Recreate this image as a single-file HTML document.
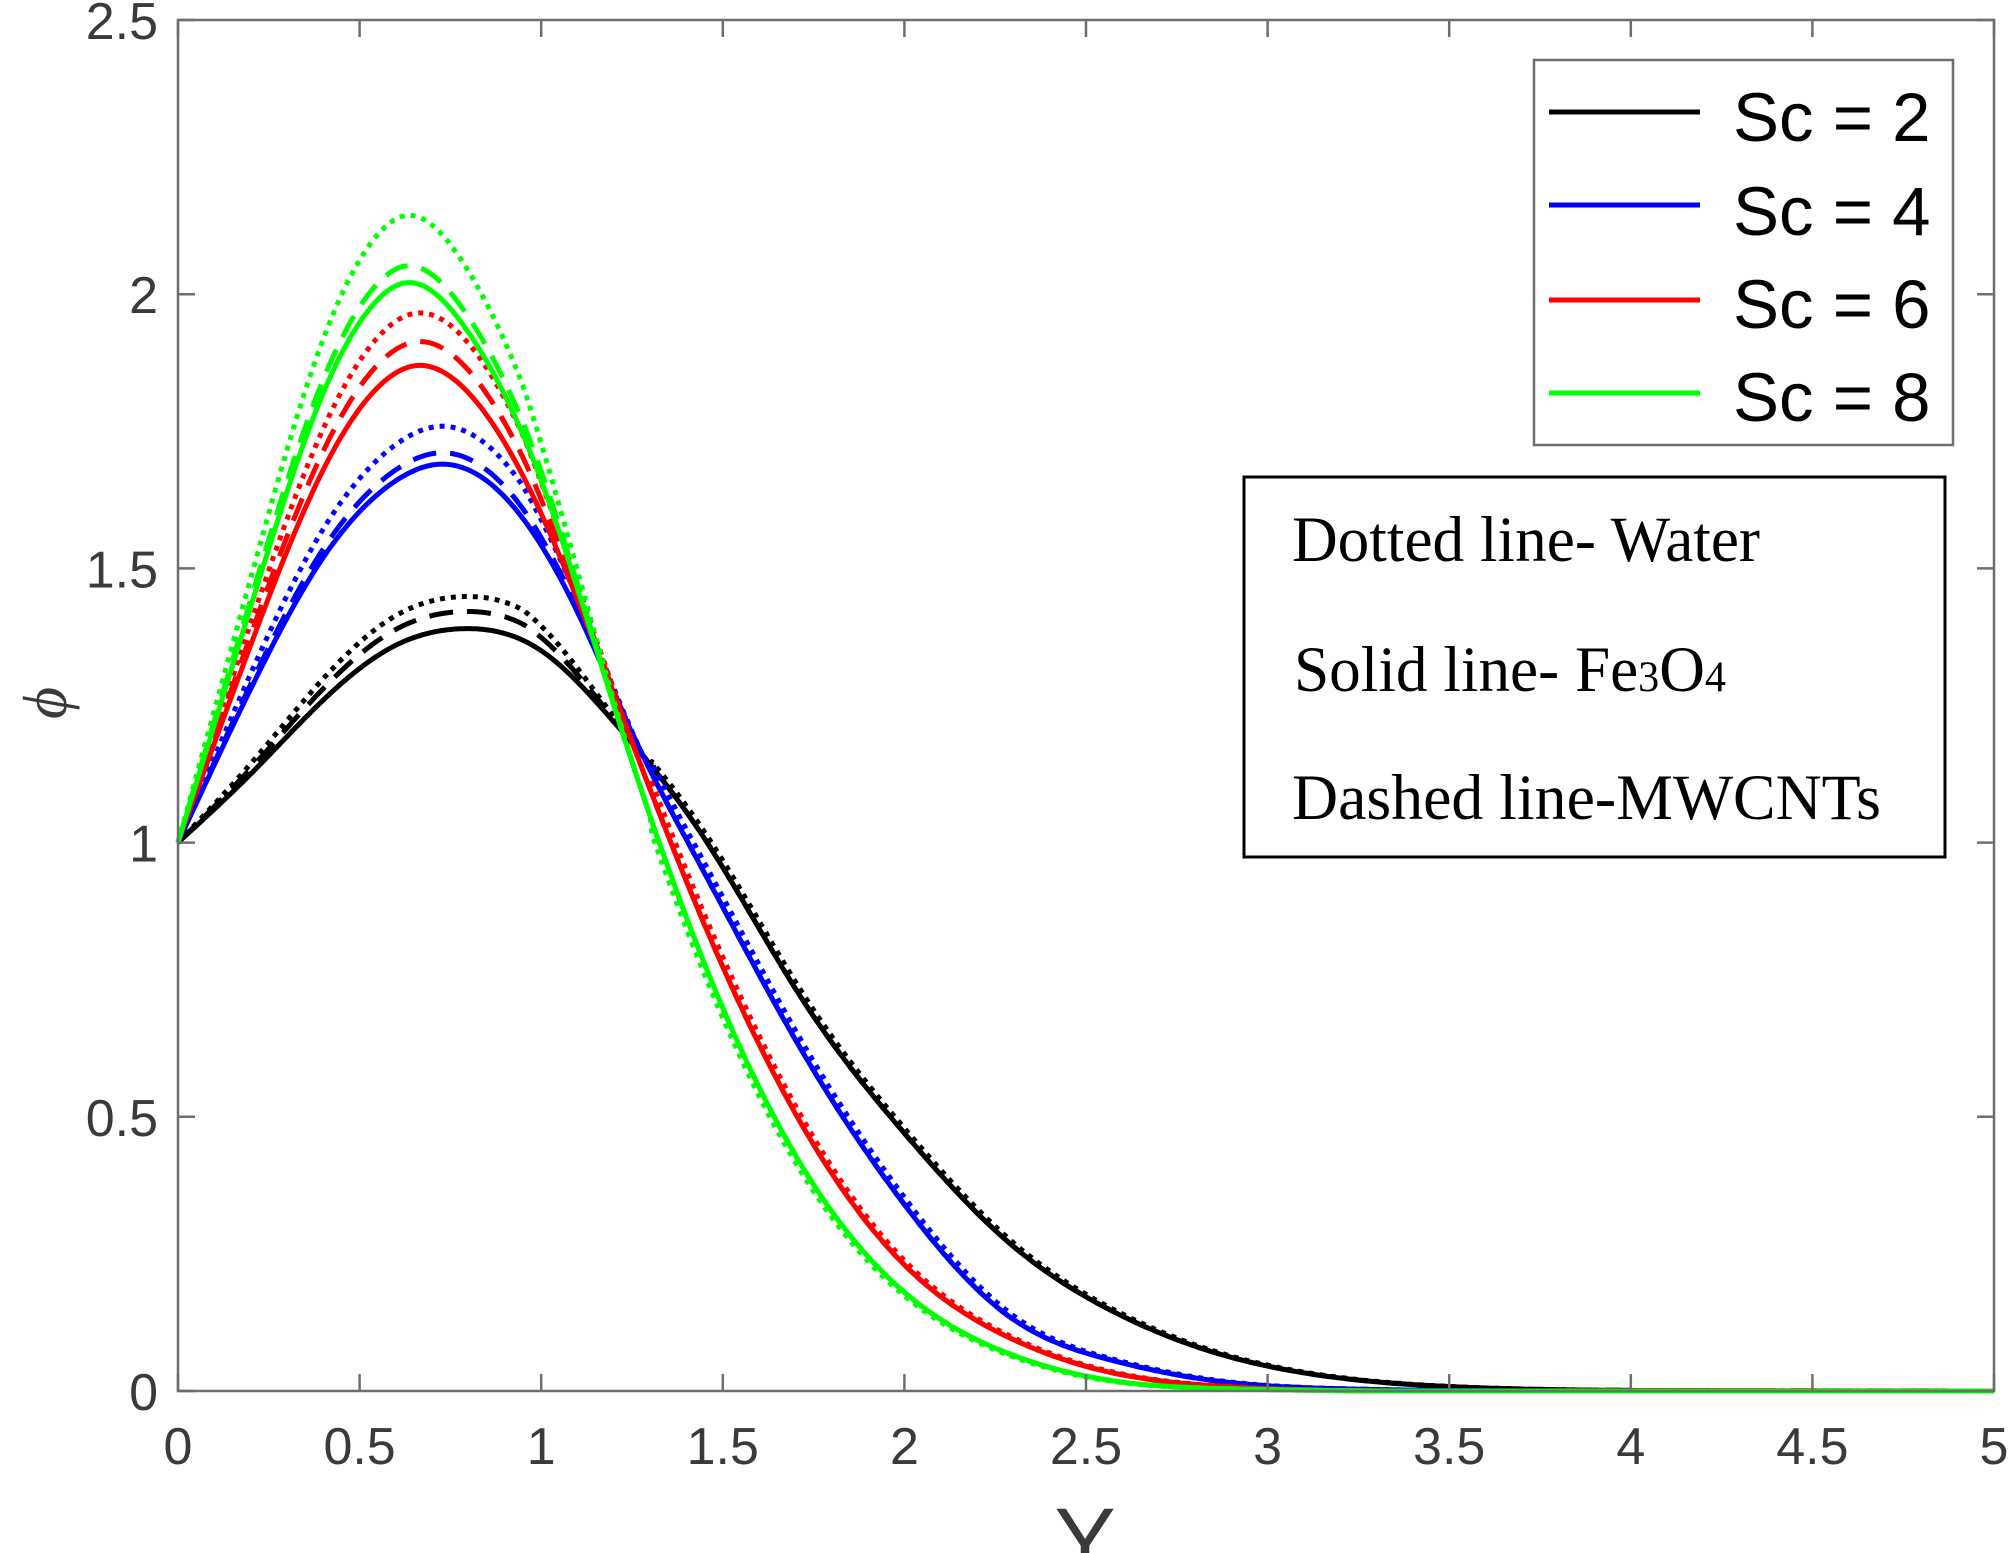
<!DOCTYPE html>
<html><head><meta charset="utf-8"><style>
html,body{margin:0;padding:0;background:#fff;overflow:hidden}
svg{display:block}
</style></head><body>
<svg id="s" width="2008" height="1553" viewBox="0 0 2008 1553" xmlns="http://www.w3.org/2000/svg">
<rect width="2008" height="1553" fill="#fff"/>
<g id="curves" fill="none" stroke-linejoin="round"></g>
<g id="axes" stroke="#6e6e6e" stroke-width="2.5" fill="none"></g>
<g font-family="Liberation Sans, sans-serif" font-size="52" fill="#3a3a3a" id="labels"></g>
<text x="1085" y="1572" font-family="Liberation Sans, sans-serif" font-size="92" fill="#3a3a3a" text-anchor="middle">Y</text>
<text transform="translate(52,703) rotate(-90)" font-family="Liberation Serif, serif" font-style="italic" font-size="62" fill="#3a3a3a" text-anchor="middle" dominant-baseline="middle">ϕ</text>
<!-- legend 1 -->
<rect x="1534" y="60" width="419" height="385" fill="#fff" stroke="#6e6e6e" stroke-width="2.5"/>
<g stroke-width="5">
<line x1="1549" y1="112" x2="1700" y2="112" stroke="#000"/>
<line x1="1549" y1="205" x2="1700" y2="205" stroke="#0000ff"/>
<line x1="1549" y1="300" x2="1700" y2="300" stroke="#ff0000"/>
<line x1="1549" y1="393" x2="1700" y2="393" stroke="#00ff00"/>
</g>
<g font-family="Liberation Sans, sans-serif" font-size="69" fill="#000">
<text x="1733" y="141">Sc = 2</text>
<text x="1733" y="235">Sc = 4</text>
<text x="1733" y="328">Sc = 6</text>
<text x="1733" y="421">Sc = 8</text>
</g>
<!-- legend 2 -->
<rect x="1244" y="477" width="701" height="380" fill="#fff" stroke="#000" stroke-width="3"/>
<g font-family="Liberation Serif, serif" fill="#000">
<text transform="translate(1292,561) scale(1,1.08)" font-size="60" textLength="468" lengthAdjust="spacingAndGlyphs">Dotted line- Water</text>
<text transform="translate(1294,691) scale(1,1.08)" font-size="60" textLength="432" lengthAdjust="spacingAndGlyphs">Solid line- Fe<tspan font-size="40">3</tspan>O<tspan font-size="40">4</tspan></text>
<text transform="translate(1292,819) scale(1,1.08)" font-size="60" textLength="589" lengthAdjust="spacingAndGlyphs">Dashed line-MWCNTs</text>
</g>
</svg>
<script>
(function(){
var X0=178,X1=1994,Y0=1391,YT=20;
function px(x){return X0+x*(X1-X0)/5;}
function py(v){return Y0-v*(Y0-YT)/2.5;}
var NS="http://www.w3.org/2000/svg";
function el(t,a,p){var e=document.createElementNS(NS,t);for(var k in a)e.setAttribute(k,a[k]);p.appendChild(e);return e;}
function spline(pts){
 var n=pts.length,x=pts.map(p=>p[0]),y=pts.map(p=>p[1]);
 var h=[],al=[],l=[1],mu=[0],z=[0],c=new Array(n).fill(0),b=[],d=[];
 for(var i=0;i<n-1;i++)h.push(x[i+1]-x[i]);
 for(i=1;i<n-1;i++)al[i]=3/h[i]*(y[i+1]-y[i])-3/h[i-1]*(y[i]-y[i-1]);
 for(i=1;i<n-1;i++){l[i]=2*(x[i+1]-x[i-1])-h[i-1]*mu[i-1];mu[i]=h[i]/l[i];z[i]=(al[i]-h[i-1]*z[i-1])/l[i];}
 l[n-1]=1;z[n-1]=0;c[n-1]=0;
 for(var j=n-2;j>=0;j--){c[j]=z[j]-mu[j]*c[j+1];b[j]=(y[j+1]-y[j])/h[j]-h[j]*(c[j+1]+2*c[j])/3;d[j]=(c[j+1]-c[j])/(3*h[j]);}
 return function(t){var i=0;while(i<n-2&&t>x[i+1])i++;var dx=t-x[i];return y[i]+b[i]*dx+c[i]*dx*dx+d[i]*dx*dx*dx;};
}
var data={
 "#000000":[[0,1],[0.2,1.125],[0.4,1.26],[0.6,1.36],[0.78,1.39],[1.0,1.35],[1.2,1.22],[1.437,1.02],[1.718,0.715],[2.0,0.47],[2.28,0.275],[2.56,0.15],[2.84,0.073],[3.12,0.031],[3.5,0.008],[4,0.001],[4.5,0],[5,0]],
 "#0000ff":[[0,1],[0.2,1.28],[0.4,1.52],[0.6,1.66],[0.72,1.69],[0.9,1.63],[1.1,1.42],[1.25,1.2],[1.437,0.96],[1.718,0.62],[2.0,0.34],[2.28,0.14],[2.56,0.058],[2.84,0.02],[3.2,0.004],[3.7,0],[5,0]],
 "#ff0000":[[0,1],[0.2,1.36],[0.4,1.68],[0.55,1.83],[0.66,1.87],[0.8,1.82],[1.0,1.6],[1.2,1.27],[1.437,0.87],[1.718,0.485],[2.0,0.23],[2.28,0.10],[2.56,0.035],[2.84,0.01],[3.2,0.001],[3.7,0],[5,0]],
 "#00ff00":[[0,1],[0.2,1.43],[0.4,1.82],[0.55,1.99],[0.62,2.02],[0.8,1.93],[1.0,1.66],[1.2,1.25],[1.437,0.80],[1.718,0.41],[2.0,0.18],[2.28,0.07],[2.56,0.02],[2.9,0.004],[3.3,0],[5,0]]
};
var fac={"#000000":[1.15,1.08],"#0000ff":[1.10,1.03],"#ff0000":[1.11,1.05],"#00ff00":[1.12,1.03]};
var shift={"#000000":0.012,"#0000ff":0.015,"#ff0000":0.012,"#00ff00":-0.012};
var g=document.getElementById("curves");
var styles=[["solid",null],["dash","24 14"],["dot","5 6"]];
for(var c in data){
 var f=spline(data[c]);
 styles.forEach(function(s){
  var F=s[0]=="solid"?1:(s[0]=="dash"?fac[c][1]:fac[c][0]);
  var d="";
  for(var k=0;k<=1000;k++){
   var x=5*k/1000,v=f(x);
   var w=x<0.95?1:(x>1.3?0:(1.3-x)/0.35);
   v=v+(F-1)*(v-1)*w;
   if(s[0]=="dot"&&x>1.3) v=f(x-shift[c]);
   if(v<0)v=0;
   d+=(k?"L":"M")+px(x).toFixed(1)+" "+py(v).toFixed(1);
  }
  var a={d:d,stroke:c,"stroke-width":5};
  if(s[1])a["stroke-dasharray"]=s[1];
  el("path",a,g);
 });
}
var ax=document.getElementById("axes");
el("rect",{x:X0,y:YT,width:X1-X0,height:Y0-YT},ax);
var lab=document.getElementById("labels");
for(var i=0;i<=10;i++){
 var x=px(i*0.5);
 el("line",{x1:x,y1:Y0,x2:x,y2:Y0-17},ax);
 el("line",{x1:x,y1:YT,x2:x,y2:YT+17},ax);
 var t=el("text",{x:x,y:1464,"text-anchor":"middle"},lab);t.textContent=String(i*0.5);
}
for(i=0;i<=5;i++){
 var y=py(i*0.5);
 el("line",{x1:X0,y1:y,x2:X0+17,y2:y},ax);
 el("line",{x1:X1,y1:y,x2:X1-17,y2:y},ax);
 var t2=el("text",{x:158,y:y+19,"text-anchor":"end"},lab);t2.textContent=String(i*0.5);
}
})();
</script>
</body></html>
